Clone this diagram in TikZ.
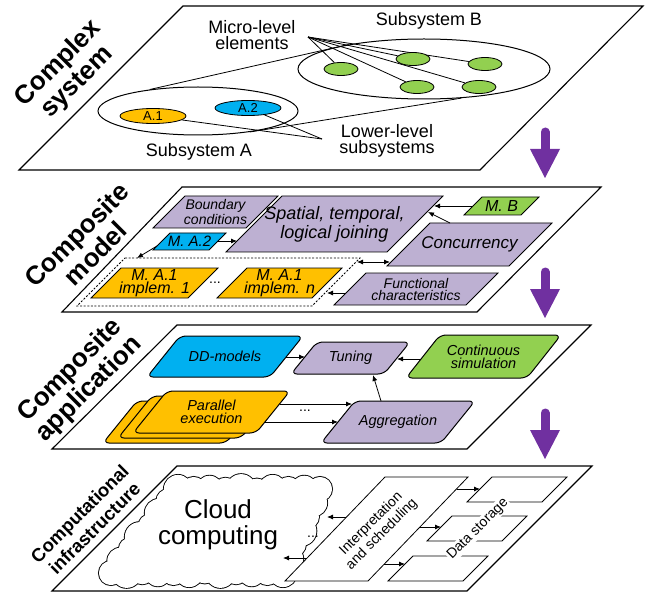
\documentclass[tikz,border=0pt]{standalone}
\usepackage{fontspec}
\setmainfont{Liberation Sans}
\usetikzlibrary{arrows.meta,shapes.geometric,calc}
\definecolor{lav}{HTML}{BDB0D2}
\definecolor{sky}{HTML}{00B0F0}
\definecolor{amber}{HTML}{FFC000}
\definecolor{leaf}{HTML}{92D050}
\definecolor{violet}{HTML}{7030A0}
\pgfdeclarelayer{back}
\pgfsetlayers{back,main}
% #1 name, #2 TL x, #3 top y, #4 top width, #5 height, #6 slant, #7 draw style, #8 node opts, #9 text
\newcommand{\pgm}[9]{%
  \draw[#7] (#2,#3) -- ++(#4,0) -- ++(-#6,#5) -- ++(-#4,0) -- cycle;
  \node[it,#8] (#1) at ({#2+#4/2-#6/2},{#3+#5/2}) {#9};
}
\newcommand{\vdown}[1]{%
  \draw[violet, line width=9pt, line cap=round] (545,{#1+5}) -- (545,{#1+24});
  \fill[violet] (530,{#1+22}) -- (560,{#1+22}) -- (545,{#1+51}) -- cycle;
}
% puffs along an edge: #1 from, #2 to, #3 count, #4 path style, #5 phase
\newcommand{\puffs}[5]{%
  \foreach \t in {1,...,#3} {%
    \pgfmathsetmacro{\ff}{(\t-1)/#3}%
    \pgfmathsetmacro{\rr}{10.5+2.8*mod(\t+#5,2)+0.8*mod(\t+#5,3)}%
    \path[#4] ($(#1)!\ff!(#2)$) circle[radius=\rr pt];
  }%
}
\begin{document}
\begin{tikzpicture}[x=1pt,y=-1pt,
  layer/.style={draw=black, line width=1.1pt, fill=white},
  box/.style={draw=black, line width=0.8pt},
  rbox/.style={draw=black, line width=1pt, rounded corners=6pt},
  arr/.style={-{Latex[length=6pt,width=5pt]}, line width=0.8pt},
  darr/.style={{Latex[length=6pt,width=5pt]}-{Latex[length=6pt,width=5pt]}, line width=0.8pt},
  dsh/.style={draw=black, line width=0.8pt, dash pattern=on 2pt off 1.6pt},
  lbl/.style={font=\fontsize{18}{16.5}\selectfont, align=center, inner sep=0pt},
  it/.style={font=\fontsize{14}{12}\selectfont\itshape, align=center, inner sep=0pt},
  ttl/.style={font=\fontsize{26}{26.5}\selectfont\bfseries, align=center, rotate=45, inner sep=0pt},
  ell/.style={draw=black, ellipse, line width=0.8pt, inner sep=0pt},
  thinl/.style={line width=0.8pt},
  puffout/.style={draw=black, line width=1.8pt, fill=white},
  puffin/.style={fill=white},
]
\useasboundingbox (0,0) rectangle (648,596);

% ---------------- Layer 1 ----------------
\begin{pgfonlayer}{back}
  \draw[layer] (183,6) -- (643,6) -- (480,170) -- (19,170) -- cycle;
\end{pgfonlayer}
\node[ttl] (t1) at (68,73) {Complex\\system};
\node[ell, line width=1pt, minimum width=200pt, minimum height=48pt] (sA) at (198,111) {};
\node[ell, line width=1pt, minimum width=252pt, minimum height=60pt] (sB) at (424,69) {};
\node[ell, fill=amber, minimum width=66pt, minimum height=15pt, font=\fontsize{13}{13}\selectfont] (a1) at (153,116) {A.1};
\node[ell, fill=sky, minimum width=66pt, minimum height=15pt, font=\fontsize{13}{13}\selectfont] (a2) at (248,108) {A.2};
\node[ell, fill=leaf, minimum width=34pt, minimum height=13pt] (g1) at (341,69) {};
\node[ell, fill=leaf, minimum width=34pt, minimum height=13pt] (g2) at (413,59) {};
\node[ell, fill=leaf, minimum width=34pt, minimum height=13pt] (g3) at (485,64) {};
\node[ell, fill=leaf, minimum width=34pt, minimum height=13pt] (g4) at (417,87) {};
\node[ell, fill=leaf, minimum width=34pt, minimum height=13pt] (g5) at (479,87) {};
\node[lbl] (mle) at (252,35) {Micro-level\\elements};
\node[lbl] (llv) at (387,141) {Lower-level\\subsystems};
\node[lbl] (ssA) at (199,152) {Subsystem A};
\node[lbl] (ssB) at (429,21) {Subsystem B};
\coordinate (mic) at (308,37);
\coordinate (low) at (322,139);
\begin{pgfonlayer}{back}
  \draw[thinl] (sA.156) -- (sB.162);
  \draw[thinl] (sA.-22) -- (sB.-38);
  \draw[thinl] (mic) -- (g1);
  \draw[thinl] (mic) -- (g2);
  \draw[thinl] (mic) -- (g3);
  \draw[thinl] (mic) -- (g4);
  \draw[thinl] (mic) -- (g5);
  \draw[thinl] (low) -- (a1);
  \draw[thinl] (low) -- (a2);
\end{pgfonlayer}
\vdown{127}

% ---------------- Layer 2 ----------------
\draw[layer] (182,187) -- (601,187) -- (477,312) -- (62,312) -- cycle;
\node[ttl] (t2) at (86,244) {Composite\\model};
\pgm{bc}{185}{196}{93}{32}{32}{box,fill=lav}{}{Boundary\\conditions}
\pgm{sp}{282}{196}{161}{56}{56}{box,fill=lav}{font=\fontsize{18}{19}\selectfont\itshape}{Spatial, temporal,\\logical joining}
\pgm{mb}{482}{197}{57}{18}{18}{box,fill=leaf}{font=\fontsize{16}{16}\selectfont\itshape}{M. B}
\pgm{cc}{430}{223}{122}{43}{43}{box,fill=lav}{font=\fontsize{17}{17}\selectfont\itshape}{Concurrency}
\pgm{fc}{366}{273}{132}{32}{32}{box,fill=lav}{}{Functional\\characteristics}
\draw[dsh] (125,258) -- (360,258) -- (312,306) -- (77,306) -- cycle;
\pgm{m1}{121}{268}{97}{30}{30}{box,fill=amber}{font=\fontsize{16}{13.5}\selectfont\itshape}{M. A.1\\implem. 1}
\pgm{mn}{247}{268}{95}{30}{30}{box,fill=amber}{font=\fontsize{16}{13.5}\selectfont\itshape}{M. A.1\\implem. n}
\pgm{ma2}{170}{233}{56}{17}{17}{box,fill=sky}{font=\fontsize{15}{15}\selectfont\itshape}{M. A.2}
\node[font=\fontsize{14}{14}\selectfont] (dots1) at (215,283) {...};
\coordinate (mbL) at (472,206);  \coordinate (spR1) at (434,206);
\coordinate (ccT) at (450,223);  \coordinate (spR2) at (428,212);
\coordinate (ma2R) at (218,241); \coordinate (spL) at (237,241);
\coordinate (ma2L) at (157,246); \coordinate (dsT) at (137,258);
\coordinate (dsR1) at (357,262); \coordinate (ccL) at (390,262);
\coordinate (fcL) at (346,293);  \coordinate (dsR2) at (327,293);
\draw[arr] (mbL) -- (spR1);
\draw[arr] (ccT) -- (spR2);
\draw[arr] (ma2R) -- (spL);
\draw[arr] (ma2L) -- (dsT);
\draw[darr] (dsR1) -- (ccL);
\draw[arr] (fcL) -- (dsR2);
\vdown{267}

% ---------------- Layer 3 ----------------
\draw[layer] (177,325) -- (591,325) -- (467,449) -- (52,449) -- cycle;
\node[ttl] (t3) at (80,380) {Composite\\application};
\pgm{dd}{180}{336}{123}{41}{33}{rbox,fill=sky}{font=\fontsize{14.5}{13}\selectfont\itshape}{DD-models}
\pgm{tu}{317}{342}{93}{32}{26}{rbox,fill=lav}{font=\fontsize{14.5}{13}\selectfont\itshape}{Tuning}
\pgm{cs}{440}{335}{121}{43}{34}{rbox,fill=leaf}{font=\fontsize{14.5}{13}\selectfont\itshape}{Continuous\\simulation}
\pgm{ag}{355}{401}{120}{42}{34}{rbox,fill=lav}{font=\fontsize{14.5}{13}\selectfont\itshape}{Aggregation}
\pgm{pe3}{137}{401}{123}{42}{34}{rbox,fill=amber}{}{}
\pgm{pe2}{152}{396}{123}{42}{34}{rbox,fill=amber}{}{}
\pgm{pe}{167}{391}{123}{42}{34}{rbox,fill=amber}{font=\fontsize{14.5}{13}\selectfont\itshape}{Parallel\\execution}
\node[font=\fontsize{14}{14}\selectfont] (dots2) at (305,411) {...};
\coordinate (ddR) at (286,357);  \coordinate (tuL) at (305,357);
\coordinate (csL) at (421,359);  \coordinate (tuR) at (397,359);
\coordinate (agT) at (381,401);  \coordinate (tuB) at (373,375);
\coordinate (peR1) at (280,404); \coordinate (agL1) at (352,404);
\coordinate (peR2) at (265,422); \coordinate (agL2) at (338,422);
\draw[arr] (ddR) -- (tuL);
\draw[arr] (csL) -- (tuR);
\draw[arr] (agT) -- (tuB);
\draw[arr] (peR1) -- (agL1);
\draw[arr] (peR2) -- (agL2);
\vdown{408}

% ---------------- Layer 4 ----------------
\draw[layer] (177,466) -- (592,466) -- (467,591) -- (52,591) -- cycle;
\node[ttl, font=\fontsize{18.5}{21}\selectfont\bfseries] (t4) at (87,521) {Computational\\infrastructure};
% cloud
\coordinate (cA) at (178,489);
\coordinate (cB) at (320,489);
\coordinate (cC) at (283,573);
\coordinate (cD) at (111,573);
\puffs{cA}{cB}{9}{puffout}{0}
\puffs{cB}{cC}{6}{puffout}{1}
\puffs{cC}{cD}{11}{puffout}{0}
\puffs{cD}{cA}{7}{puffout}{1}
\puffs{cA}{cB}{9}{puffin}{0}
\puffs{cB}{cC}{6}{puffin}{1}
\puffs{cC}{cD}{11}{puffin}{0}
\puffs{cD}{cA}{7}{puffin}{1}
\fill[white] (cA) -- (cB) -- (cC) -- (cD) -- cycle;
\node[font=\fontsize{26}{26}\selectfont, align=center, inner sep=0pt] (cloud) at (218,525) {Cloud\\computing};
\pgm{st1}{492}{477}{75}{25}{25}{box,fill=white}{}{}
\pgm{st2}{452}{516}{75}{25}{25}{box,fill=white}{}{}
\pgm{st3}{413}{556}{75}{25}{25}{box,fill=white}{}{}
\node[rotate=45, fill=white, inner sep=1pt, font=\fontsize{14}{15}\selectfont] (ds) at (478,529) {Data storage};
\pgm{is}{385}{477}{83}{104}{100}{box,fill=white}{rotate=45,font=\fontsize{14}{15}\selectfont}{Interpretation\\and scheduling}
\node[font=\fontsize{14}{14}\selectfont] (dots3) at (313,537) {...};
\coordinate (isR1) at (457,489); \coordinate (st1L) at (480,489);
\coordinate (isR2) at (420,527); \coordinate (st2L) at (441,527);
\coordinate (isR3) at (384,564); \coordinate (st3L) at (405,564);
\coordinate (isL1) at (346,517); \coordinate (clR1) at (327,517);
\coordinate (isL2) at (307,558); \coordinate (clR2) at (283,558);
\draw[arr] (isR1) -- (st1L);
\draw[arr] (isR2) -- (st2L);
\draw[arr] (isR3) -- (st3L);
\draw[arr] (isL1) -- (clR1);
\draw[arr] (isL2) -- (clR2);
\end{tikzpicture}
\end{document}
